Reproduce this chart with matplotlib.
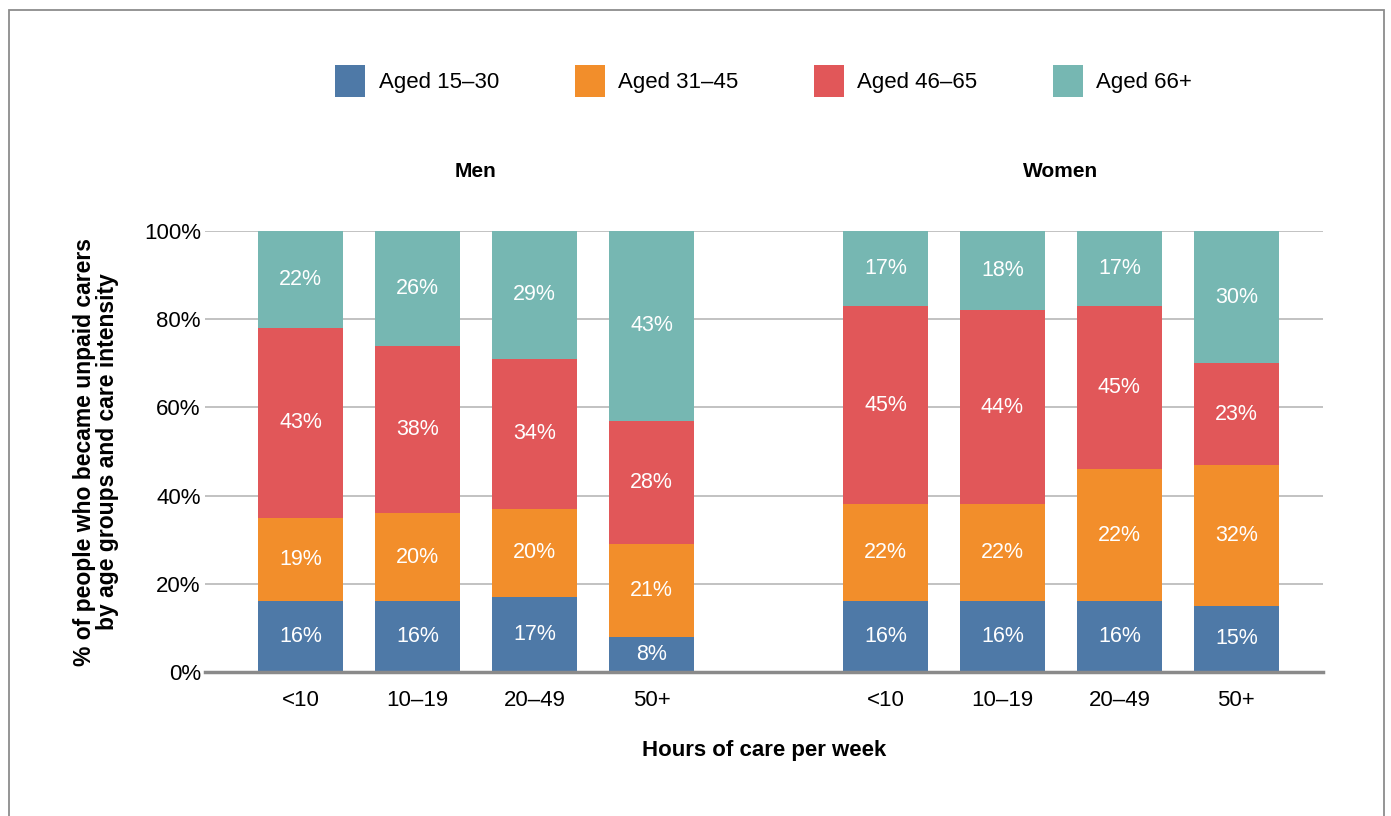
import matplotlib
matplotlib.use("Agg")
import matplotlib.pyplot as plt
from matplotlib.patches import Rectangle, Patch
import numpy as np

plt.rcParams['font.family'] = ['Liberation Sans', 'DejaVu Sans']

hours = ['<10', '10–19', '20–49', '50+']
groups = ['Men', 'Women']
series = ['Aged 15–30', 'Aged 31–45', 'Aged 46–65', 'Aged 66+']
colors = ['#4E79A7', '#F28E2B', '#E15759', '#76B7B2']

# drawn segment heights (%)
men_15_30 = [16, 16, 17, 8]
men_31_45 = [19, 20, 20, 21]
men_46_65 = [43, 38, 34, 28]
men_66 = [22, 26, 29, 43]
women_15_30 = [16, 16, 16, 15]
women_31_45 = [22, 22, 30, 32]
women_46_65 = [45, 44, 37, 23]
women_66 = [17, 18, 17, 30]

# printed labels (%)
men_labels = [men_15_30, men_31_45, men_46_65, men_66]
women_labels = [[16, 16, 16, 15], [22, 22, 22, 32], [45, 44, 45, 23], [17, 18, 17, 30]]

men = [men_15_30, men_31_45, men_46_65, men_66]
women = [women_15_30, women_31_45, women_46_65, women_66]

fig = plt.figure(figsize=(13.91, 8.16), dpi=100)
ax = fig.add_axes([205/1391, 1-672/816, (1323-205)/1391, (672-231)/816])

men_x = np.arange(4)
women_x = np.arange(4) + 5
width = 0.726

for xs, data, labs in [(men_x, men, men_labels), (women_x, women, women_labels)]:
    bottom = np.zeros(4)
    for k in range(4):
        vals = np.array(data[k], dtype=float)
        bars = ax.bar(xs, vals, width, bottom=bottom, color=colors[k], zorder=3)
        ax.bar_label(bars, labels=[f'{v}%' for v in labs[k]], label_type='center',
                     color='white', fontsize=15.5)
        bottom += vals

ax.set_xlim(-0.816, 8.74)
ax.set_ylim(0, 100)
ax.set_yticks([0, 20, 40, 60, 80, 100])
ax.set_yticklabels(['0%', '20%', '40%', '60%', '80%', '100%'], fontsize=16)
ax.set_xticks(list(men_x) + list(women_x))
ax.set_xticklabels(hours + hours, fontsize=16)
ax.tick_params(axis='both', length=0)
ax.tick_params(axis='y', pad=3)
ax.tick_params(axis='x', pad=13)
ax.grid(axis='y', color='#BDBDBD', lw=1.3, zorder=0)
for s in ['top', 'right', 'left']:
    ax.spines[s].set_visible(False)
ax.spines['bottom'].set_color('#8A8A8A')
ax.spines['bottom'].set_linewidth(2.5)
ax.spines['bottom'].set_zorder(4)

ax.set_ylabel('% of people who became unpaid carers\nby age groups and care intensity',
              fontsize=16.5, fontweight='bold', labelpad=18, linespacing=1.0)
ax.set_xlabel('Hours of care per week', fontsize=16, fontweight='bold', labelpad=21)

for xs, g in [(men_x, groups[0]), (women_x, groups[1])]:
    ax.text(xs.mean(), 1.136, g, transform=ax.get_xaxis_transform(), ha='center', va='center',
            fontsize=15, fontweight='bold')

handles = [Patch(facecolor=c, edgecolor='none') for c in colors]
fig.legend(handles, series, loc='center', bbox_to_anchor=(0.549, 1-81/816), ncol=4,
           frameon=False, prop={'size': 16},
           handlelength=1.35, handleheight=1.8, handletextpad=0.6, columnspacing=3.4)

fig.add_artist(Rectangle((9/1391, -0.1), (1384-9)/1391, 1-10/816+0.1, transform=fig.transFigure,
                         fill=False, edgecolor='#8C8C8C', lw=1.3))

fig.savefig('out.png', dpi=100)
